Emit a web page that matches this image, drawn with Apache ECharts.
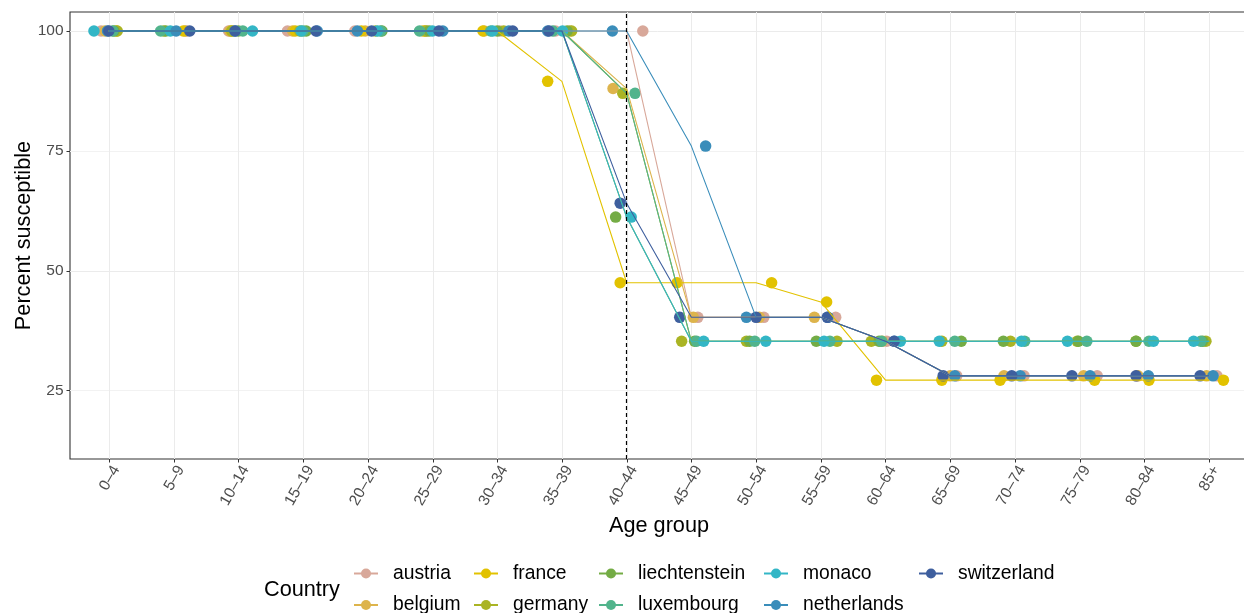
<!DOCTYPE html>
<html>
<head>
<meta charset="utf-8">
<script src="https://cdn.jsdelivr.net/npm/echarts@6/dist/echarts.min.js"></script>
<style>
html,body{margin:0;padding:0;background:#fff;}
#chart{width:1244px;height:613px;}
</style>
</head>
<body>
<div id="chart"></div>
<script>
// ---------- data ----------
const ageGroups = ['0–4','5–9','10–14','15–19','20–24','25–29','30–34','35–39','40–44','45–49','50–54','55–59','60–64','65–69','70–74','75–79','80–84','85+'];
const countries = ['austria','belgium','france','germany','liechtenstein','luxembourg','monaco','netherlands','switzerland'];
const yTicks = [25, 50, 75, 100];
const markedGroup = '40–44';

const austria       = [100,100,100,100,100,100,100,100,100,40.3,40.3,40.3,35.3,28.1,28.1,28.1,28.1,28.1];
const belgium       = [100,100,100,100,100,100,100,100,88,40.3,40.3,40.3,35.3,28.1,28.1,28.1,28.1,28.1];
const france        = [100,100,100,100,100,100,100,89.5,47.5,47.5,47.5,43.5,27.2,27.2,27.2,27.2,27.2,27.2];
const germany       = [100,100,100,100,100,100,100,100,87,35.3,35.3,35.3,35.3,35.3,35.3,35.3,35.3,35.3];
const liechtenstein = [100,100,100,100,100,100,100,100,61.2,35.3,35.3,35.3,35.3,35.3,35.3,35.3,35.3,35.3];
const luxembourg    = [100,100,100,100,100,100,100,100,87,35.3,35.3,35.3,35.3,35.3,35.3,35.3,35.3,35.3];
const monaco        = [100,100,100,100,100,100,100,100,61.2,35.3,35.3,35.3,35.3,35.3,35.3,35.3,35.3,35.3];
const netherlands   = [100,100,100,100,100,100,100,100,100,76,40.3,40.3,35.3,28.1,28.1,28.1,28.1,28.1];
const switzerland   = [100,100,100,100,100,100,100,100,64.1,40.3,40.3,40.3,35.3,28.1,28.1,28.1,28.1,28.1];

// horizontal jitter of each plotted point (in age-group units)
const austriaJitter       = [-0.12,0.2,-0.15,-0.24,-0.2,-0.09,0.04,-0.1,0.25,0.1,0.12,0.23,0.02,0.1,0.14,0.27,-0.12,0.12];
const belgiumJitter       = [-0.06,0.18,-0.13,-0.16,-0.04,-0.15,-0.2,0.12,-0.21,0.03,0.05,-0.1,-0.05,0.0,-0.17,0.06,-0.1,-0.04];
const franceJitter        = [0.12,0.15,-0.1,-0.12,-0.1,-0.12,-0.22,-0.22,-0.1,-0.22,0.24,0.09,-0.14,-0.13,-0.23,0.23,0.07,0.22];
const germanyJitter       = [0.13,-0.15,-0.1,-0.05,0.12,-0.1,0.1,0.15,-0.06,-0.15,-0.15,0.25,-0.22,-0.13,-0.07,-0.04,-0.13,-0.05];
const liechtensteinJitter = [0.08,-0.12,0.0,0.05,0.22,-0.05,0.0,0.08,-0.17,0.05,-0.1,-0.07,-0.1,0.17,-0.18,-0.02,-0.13,-0.1];
const luxembourgJitter    = [0.06,-0.2,0.07,0.0,0.2,-0.2,-0.1,-0.14,0.13,0.08,-0.02,0.14,-0.06,0.07,0.15,0.11,0.07,-0.13];
const monacoJitter        = [-0.23,-0.05,0.22,-0.03,0.15,0.0,-0.07,0.01,0.07,0.19,0.15,0.05,0.23,-0.17,0.1,-0.19,0.14,-0.24];
const netherlandsJitter   = [-0.02,0.04,-0.05,0.22,-0.16,0.16,0.18,-0.22,-0.22,0.22,-0.15,0.11,0.14,0.07,0.08,0.16,0.06,0.06];
const switzerlandJitter   = [0.0,0.25,-0.05,0.2,0.06,0.1,0.24,-0.2,-0.1,-0.18,0.0,0.1,0.13,-0.11,-0.05,-0.12,-0.13,-0.14];

// ---------- styling ----------
const FONT = '"Liberation Sans", Arial, Helvetica, sans-serif';
const colors = {
  austria:'#D8A89A', belgium:'#DDB44C', france:'#E2C200', germany:'#AAB424',
  liechtenstein:'#74AC45', luxembourg:'#52B48C', monaco:'#33B6C6',
  netherlands:'#3A8DBA', switzerland:'#3E5F9E'
};
const values = {austria, belgium, france, germany, liechtenstein, luxembourg, monaco, netherlands, switzerland};
const jitters = {austria:austriaJitter, belgium:belgiumJitter, france:franceJitter, germany:germanyJitter,
  liechtenstein:liechtensteinJitter, luxembourg:luxembourgJitter, monaco:monacoJitter,
  netherlands:netherlandsJitter, switzerland:switzerlandJitter};

const series = [];
countries.forEach((c, k) => {
  const s = {
    name: c, type: 'line', xAxisIndex: 0, yAxisIndex: 0,
    data: values[c].map((v, i) => [i, v]),
    showSymbol: false, symbol: 'circle', symbolSize: 10,
    lineStyle: {color: colors[c], width: 1.1},
    itemStyle: {color: colors[c]},
    z: 3, silent: true, animation: false
  };
  if (k === 0) {
    s.markLine = {
      silent: true, symbol: ['none','none'], label: {show: false},
      lineStyle: {color: '#000', type: [4,3], width: 1.2},
      data: [{xAxis: ageGroups.indexOf(markedGroup)}],
      animation: false
    };
  }
  series.push(s);
});
countries.forEach(c => {
  series.push({
    name: c, type: 'scatter', xAxisIndex: 0, yAxisIndex: 0,
    data: values[c].map((v, i) => [i + jitters[c][i], v]),
    symbol: 'circle', symbolSize: 11.5,
    itemStyle: {color: colors[c], opacity: 1},
    z: 2, silent: true, animation: false
  });
});

// legend: 5 columns x 2 rows
const legendLeft = [353, 473, 598, 763, 918];
const legendTop = [564, 595.5];
const legends = countries.map((c, i) => ({
  show: true, data: [c], orient: 'horizontal',
  left: legendLeft[Math.floor(i / 2)], top: legendTop[i % 2],
  padding: 0, itemWidth: 24, itemHeight: 12.5, selectedMode: false,
  textStyle: {fontSize: 19.3, color: '#000', fontFamily: FONT, padding: [0,0,0,10]}
}));

const option = {
  animation: false,
  backgroundColor: '#ffffff',
  textStyle: {fontFamily: FONT},
  title: {text: 'Country', left: 264, top: 579, padding: 0,
    textStyle: {fontSize: 21.7, fontWeight: 'normal', color: '#000', fontFamily: FONT}},
  legend: legends,
  grid: [
    {left: 70, right: -4, top: 12, bottom: 154, show: true, borderColor: '#333333', borderWidth: 1.1,
     backgroundColor: 'transparent', containLabel: false, outerBoundsMode: 'none'},
    {left: 109.3, right: 34.8, top: 12, bottom: 154, show: false, containLabel: false, outerBoundsMode: 'none'},
    {left: 70, right: -4, top: 31, bottom: 162.4, show: false, containLabel: false, outerBoundsMode: 'none'}
  ],
  xAxis: [
    {type: 'value', gridIndex: 0, min: -0.6, max: 17.6,
     axisLine: {show: false}, axisTick: {show: false}, axisLabel: {show: false}, splitLine: {show: false},
     name: 'Age group', nameLocation: 'middle', nameGap: 56,
     nameTextStyle: {fontSize: 21.7, color: '#000', fontFamily: FONT}},
    {type: 'category', gridIndex: 1, data: ageGroups, boundaryGap: false,
     axisLine: {show: false},
     axisTick: {show: true, interval: 0, length: 3.5, lineStyle: {color: '#333333', width: 1}},
     axisLabel: {interval: 0, rotate: 60, fontSize: 15.5, color: '#4D4D4D', margin: 4,
       verticalAlign: 'top', fontFamily: FONT},
     splitLine: {show: true, interval: 0, lineStyle: {color: '#EBEBEB', width: 1}}},
    {type: 'value', gridIndex: 2, show: false}
  ],
  yAxis: [
    {type: 'value', gridIndex: 0, min: 10.76, max: 103.96,
     axisLine: {show: false}, axisTick: {show: false}, axisLabel: {show: false}, splitLine: {show: false},
     name: 'Percent susceptible', nameLocation: 'middle', nameRotate: 90, nameGap: 35,
     nameTextStyle: {fontSize: 21.7, color: '#000', fontFamily: FONT}},
    {type: 'value', gridIndex: 1, show: false},
    {type: 'value', gridIndex: 2, min: 12.5, max: 100, interval: 12.5,
     axisLine: {show: false},
     axisTick: {show: true, customValues: yTicks, length: 3.5, lineStyle: {color: '#333333', width: 1}},
     axisLabel: {customValues: yTicks, fontSize: 15.5, color: '#4D4D4D', margin: 6.5, fontFamily: FONT},
     splitLine: {show: true, lineStyle: {color: ['#F2F2F2', '#EBEBEB'], width: 1}}}
  ],
  series: series
};

const chart = echarts.init(document.getElementById('chart'), null, {renderer: 'canvas'});
chart.setOption(option);
</script>
</body>
</html>
